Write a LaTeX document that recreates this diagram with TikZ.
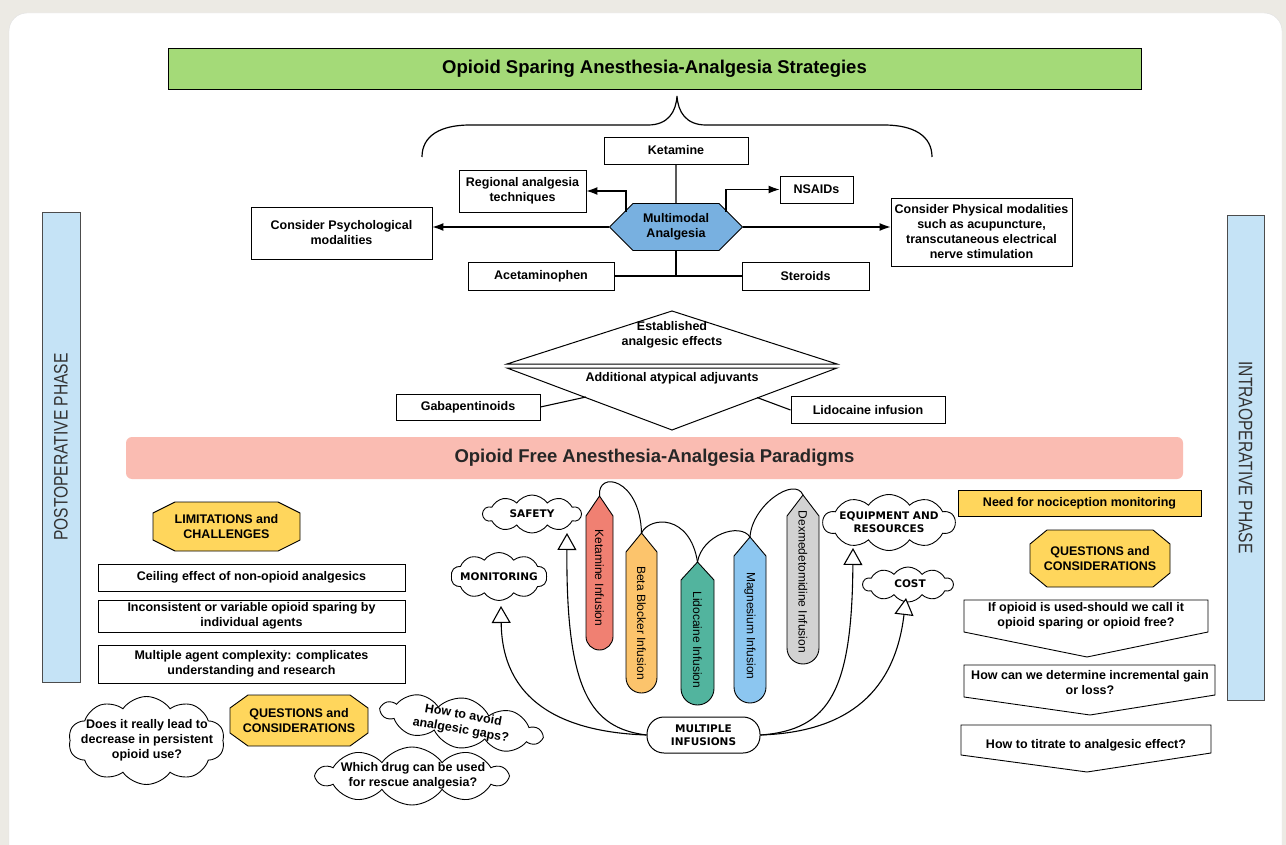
\documentclass[tikz,border=0pt]{standalone}
\usepackage{fontspec}
\setmainfont{Liberation Sans}
\newfontfamily\phasefont[FakeStretch=0.8]{Liberation Sans}
\newfontfamily\comicfont{DejaVu Sans}
\usetikzlibrary{shapes.symbols,arrows.meta}

\definecolor{pagegrey}{RGB}{236,234,228}
\definecolor{titlegreen}{RGB}{164,218,120}
\definecolor{hexblue}{RGB}{120,176,224}
\definecolor{pinkbar}{RGB}{250,188,178}
\definecolor{phaseblue}{RGB}{197,227,246}
\definecolor{hexyellow}{RGB}{255,214,92}
\definecolor{ketred}{RGB}{240,128,114}
\definecolor{betaorange}{RGB}{252,196,108}
\definecolor{lidoteal}{RGB}{82,180,158}
\definecolor{magblue}{RGB}{140,198,240}
\definecolor{dexgrey}{RGB}{210,210,210}

\tikzset{
  box/.style={draw, fill=white, line width=0.9pt, inner sep=2pt, align=center,
    font=\bfseries\fontsize{12.5}{15}\selectfont},
  plain/.style={inner sep=0pt, align=center, font=\bfseries\fontsize{12.5}{15}\selectfont},
  multimodal/.style={signal, signal to=west and east, signal pointer angle=90, draw,
    fill=hexblue, line width=0.9pt, inner sep=0pt, minimum width=133pt, minimum height=47pt,
    align=center, font=\bfseries\fontsize{12.5}{15}\selectfont},
  octo/.style={draw, fill=hexyellow, line width=0.9pt},
  puff/.style={cloud, cloud puffs=10, cloud puff arc=110, cloud ignores aspect, draw,
    fill=white, line width=0.9pt, inner sep=0pt},
  comic/.style={inner sep=0pt, align=center, font=\comicfont\bfseries\fontsize{10.5}{13.5}\selectfont},
  phase/.style={draw=black!70, fill=phaseblue, line width=0.8pt, text=black!80,
    font=\phasefont\fontsize{19.5}{22}\selectfont},
  pennant/.style={draw, fill=white, line width=0.9pt},
  pill/.style={draw, line width=0.9pt},
  pilltext/.style={rotate=-90, inner sep=0pt, font=\fontsize{12}{14}\selectfont},
  link/.style={line width=1.1pt},
  arr/.style={line width=1.1pt, -{Latex[length=11pt,width=8pt]}},
  hollow/.style={line width=1.1pt, -{Triangle[fill=white,length=17pt,width=19pt]}}
}

\begin{document}
\begin{tikzpicture}[x=1pt,y=1pt]
\useasboundingbox (0,0) rectangle (1286,-845);
\fill[pagegrey] (0,0) rectangle (1286,-845);
\draw[black!12, fill=white, rounded corners=18pt] (9,-13) rectangle (1282,-880);

% strategies
\node[box, fill=titlegreen, minimum width=973pt, minimum height=41pt,
  font=\bfseries\fontsize{18.5}{22}\selectfont] (title) at (654.5,-68.5) {Opioid Sparing Anesthesia-Analgesia Strategies};
\draw[line width=1.2pt] (422,-157) .. controls (422,-136) and (440,-125) .. (470,-125) -- (648,-125)
  .. controls (668,-125) and (676,-112) .. (677,-96) .. controls (678,-112) and (686,-125) .. (706,-125)
  -- (884,-125) .. controls (914,-125) and (932,-136) .. (932,-157);

\node[box, minimum width=144pt, minimum height=27pt] (ketamine) at (676,-150.5) {Ketamine};
\node[box, minimum width=127pt, minimum height=42pt] (regional) at (522.5,-191) {Regional analgesia\\techniques};
\node[box, minimum width=73pt, minimum height=27pt] (nsaids) at (816.5,-189.5) {NSAIDs};
\node[box, minimum width=181pt, minimum height=52pt] (psych) at (341.5,-233) {Consider Psychological\\modalities};
\node[box, minimum width=181pt, minimum height=68pt] (physical) at (981.5,-232) {Consider Physical modalities\\such as acupuncture,\\transcutaneous electrical\\nerve stimulation};
\node[box, minimum width=146pt, minimum height=28pt] (acet) at (541,-276) {Acetaminophen};
\node[box, minimum width=127pt, minimum height=28pt] (steroids) at (805.5,-276) {Steroids};
\node[multimodal] (hex) at (676,-227) {Multimodal\\Analgesia};
\coordinate (fork) at (676,-276);

\draw[link] (ketamine) -- (hex);
\draw[arr] ([xshift=-50pt,yshift=15pt]hex.center) |- (regional.east);
\draw[arr] ([xshift=50pt,yshift=15pt]hex.center) |- (nsaids.west);
\draw[arr] (hex.west) -- (hex.west -| psych.east);
\draw[arr] (hex.east) -- (hex.east -| physical.west);
\draw[link] (hex.south) -- (fork);
\draw[link] (acet.east) -- (steroids.west);

% adjuvants
\draw[line width=1pt, fill=white] (507,-364) -- (672,-311) -- (837,-364) -- cycle;
\draw[line width=1pt, fill=white] (507,-368) -- (837,-368) -- (672,-430) -- cycle;
\node[plain] (established) at (672,-335) {Established\\analgesic effects};
\node[plain] (atypical) at (672,-378) {Additional atypical adjuvants};
\node[box, minimum width=144pt, minimum height=26pt] (gaba) at (468,-407) {Gabapentinoids};
\node[box, minimum width=154pt, minimum height=27pt] (lido) at (868,-410) {Lidocaine infusion};
\coordinate (dleft) at (586,-397);
\coordinate (dright) at (757,-397.5);
\draw[link] (gaba.east) -- (dleft);
\draw[link] (dright) -- (lido.west);

% paradigms
\node[fill=pinkbar, rounded corners=6pt, minimum width=1057pt, minimum height=42pt, text=black!85,
  font=\bfseries\fontsize{18.5}{22}\selectfont] (paradigms) at (654.5,-458) {Opioid Free Anesthesia-Analgesia Paradigms};
\node[phase, minimum width=470pt, minimum height=38pt, rotate=90] (postop) at (61,-447) {POSTOPERATIVE PHASE};
\node[phase, minimum width=485pt, minimum height=37pt, rotate=-90] (intraop) at (1245.5,-457.5) {INTRAOPERATIVE PHASE};

% postoperative side
\draw[octo] (153,-513) -- (175,-502) -- (278,-502) -- (300,-513) -- (300,-540) -- (278,-551) -- (175,-551) -- (153,-540) -- cycle;
\node[plain] (limits) at (226.5,-526.5) {LIMITATIONS and\\CHALLENGES};
\node[box, minimum width=307pt, minimum height=27pt] (ceiling) at (251.5,-577.5) {Ceiling effect of non-opioid analgesics};
\node[box, minimum width=307pt, minimum height=32pt] (variable) at (251.5,-616) {Inconsistent or variable opioid sparing by\\individual agents};
\node[box, minimum width=307pt, minimum height=38pt] (complexity) at (251.5,-664) {Multiple agent complexity: complicates\\understanding and research};
\draw[octo] (230,-708) -- (248,-695) -- (350,-695) -- (368,-708) -- (368,-733) -- (350,-746) -- (248,-746) -- (230,-733) -- cycle;
\node[plain] (questleft) at (299,-720.5) {QUESTIONS and\\CONSIDERATIONS};
\node[puff, minimum width=156pt, minimum height=88pt] (persistentpuff) at (146.5,-740.5) {};
\node[plain] (persistent) at (147,-740) {Does it really lead to\\decrease in persistent\\opioid use?};
\node[puff, rotate=-10, minimum width=162pt, minimum height=50pt] (gapspuff) at (461.5,-723) {};
\node[plain, rotate=-10] (gaps) at (462,-723) {How to avoid\\analgesic gaps?};
\node[puff, minimum width=190pt, minimum height=58pt] (rescuepuff) at (412,-776) {};
\node[plain] (rescue) at (413,-776) {Which drug can be used\\for rescue analgesia?};

% infusions
\draw[pill, fill=ketred] (586,-516) -- (599.5,-496) -- (613,-516) -- (613,-636.5) arc[start angle=0, end angle=-180, radius=13.5] -- cycle;
\draw[pill, fill=betaorange] (626,-552) -- (641.5,-533) -- (657,-552) -- (657,-677.5) arc[start angle=0, end angle=-180, radius=15.5] -- cycle;
\draw[pill, fill=lidoteal] (681,-580) -- (697.5,-562) -- (714,-580) -- (714,-688.5) arc[start angle=0, end angle=-180, radius=16.5] -- cycle;
\draw[pill, fill=magblue] (734,-556) -- (750,-537) -- (766,-556) -- (766,-687) arc[start angle=0, end angle=-180, radius=16] -- cycle;
\draw[pill, fill=dexgrey] (787,-516) -- (803,-495) -- (819,-516) -- (819,-648) arc[start angle=0, end angle=-180, radius=16] -- cycle;
\coordinate (kettip) at (599.5,-496);
\coordinate (betatip) at (641.5,-533);
\coordinate (lidotip) at (697.5,-562);
\coordinate (magtip) at (750,-537);
\coordinate (dextip) at (803,-495);
\draw[line width=1pt] (kettip) .. controls (597,-470) and (640,-478) .. (betatip);
\draw[line width=1pt] (betatip) .. controls (650,-516) and (690,-514) .. (lidotip);
\draw[line width=1pt] (lidotip) .. controls (702,-535) and (740,-522) .. (magtip);
\draw[line width=1pt] (magtip) .. controls (752,-505) and (795,-476) .. (dextip);
\node[pilltext] (ketlabel) at (599.5,-578) {Ketamine Infusion};
\node[pilltext] (betalabel) at (641.5,-623) {Beta Blocker Infusion};
\node[pilltext] (lidolabel) at (697.5,-640) {Lidocaine Infusion};
\node[pilltext] (maglabel) at (750,-626) {Magnesium Infusion};
\node[pilltext] (dexlabel) at (803,-582) {Dexmedetomidine Infusion};

\node[draw, fill=white, rounded corners=17pt, minimum width=113pt, minimum height=36pt,
  line width=1pt, comic] (multi) at (703.5,-735) {MULTIPLE\\INFUSIONS};
\node[puff, minimum width=98pt, minimum height=38pt] (safetypuff) at (532,-514) {};
\node[comic] (safety) at (532,-514) {SAFETY};
\node[puff, minimum width=96pt, minimum height=48pt] (monitoringpuff) at (499,-576.5) {};
\node[comic] (monitoring) at (499,-577) {MONITORING};
\node[puff, minimum width=132pt, minimum height=56pt] (equipmentpuff) at (889,-522.5) {};
\node[comic] (equipment) at (889,-522) {EQUIPMENT AND\\RESOURCES};
\node[puff, minimum width=90pt, minimum height=35pt] (costpuff) at (908,-584.5) {};
\node[comic] (cost) at (910,-584) {COST};
\coordinate (safetytip) at (567,-533);
\coordinate (monitortip) at (501,-606);
\coordinate (equiptip) at (853,-548);
\coordinate (costtip) at (906,-598);
\draw[hollow] (multi.west) .. controls (590,-728) and (566,-690) .. (safetytip);
\draw[hollow] (multi.west) .. controls (560,-732) and (502,-700) .. (monitortip);
\draw[hollow] (multi.east) .. controls (830,-730) and (852,-690) .. (equiptip);
\draw[hollow] (multi.east) .. controls (850,-732) and (895,-690) .. (costtip);

% intraoperative side
\node[box, fill=hexyellow, minimum width=243pt, minimum height=26pt] (nocicept) at (1079.5,-503) {Need for nociception monitoring};
\draw[octo] (1030,-544) -- (1047,-530) -- (1153,-530) -- (1170,-544) -- (1170,-573) -- (1153,-587) -- (1047,-587) -- (1030,-573) -- cycle;
\node[plain] (questright) at (1100,-558.5) {QUESTIONS and\\CONSIDERATIONS};
\draw[pennant] (964,-600) -- (1208,-600) -- (1208,-632) -- (1087,-657) -- (964,-632) -- cycle;
\node[plain] (sparingfree) at (1086,-616) {If opioid is used-should we call it\\opioid sparing or opioid free?};
\draw[pennant] (964,-665) -- (1215,-665) -- (1215,-695) -- (1090,-715) -- (964,-697) -- cycle;
\node[plain] (increment) at (1090,-683) {How can we determine incremental gain\\or loss?};
\draw[pennant] (961,-725) -- (1211,-725) -- (1211,-753) -- (1087,-772) -- (961,-755) -- cycle;
\node[plain] (titrate) at (1086,-745) {How to titrate to analgesic effect?};
\end{tikzpicture}
\end{document}
